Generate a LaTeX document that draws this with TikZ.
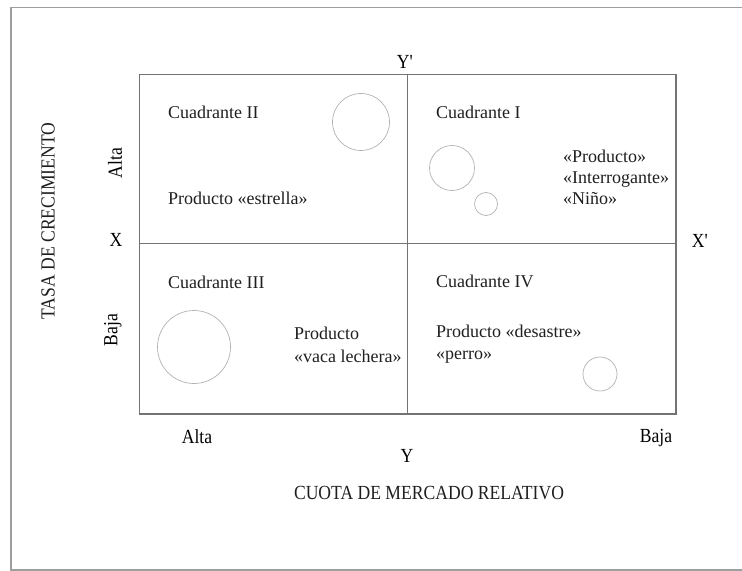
\documentclass[tikz,border=0pt]{standalone}
\usepackage{fontspec}
\setmainfont{Liberation Serif}
\newfontfamily\condfont[FakeStretch=0.88]{Liberation Serif}
\definecolor{framec}{gray}{0.62}
\definecolor{boxc}{gray}{0.45}
\definecolor{circc}{gray}{0.70}
\definecolor{txtc}{gray}{0.12}
\tikzset{
  frameline/.style={draw=framec, line width=1.4bp},
  boxline/.style={draw=boxc, line width=1.1bp},
  bubble/.style={draw=circc, line width=0.7bp},
  qtext/.style={inner sep=0pt, anchor=west, text=txtc, align=left,
    font=\fontsize{18bp}{21bp}\selectfont},
  axislbl/.style={inner sep=0pt, text=black, font=\condfont\fontsize{20bp}{22bp}\selectfont},
  titlelbl/.style={inner sep=0pt, text=txtc, font=\condfont\fontsize{20bp}{22bp}\selectfont},
}
\begin{document}
\begin{tikzpicture}[x=1bp,y=-1bp]
\useasboundingbox (0,0) rectangle (742,571);
% outer frame (open on the right)
\coordinate (fTR) at (742,7.5);
\coordinate (fTL) at (11,7.5);
\coordinate (fBL) at (11,570);
\coordinate (fBR) at (742,570);
\draw[frameline] (fTR) -- (fTL) -- (fBL) -- (fBR);
% matrix box
\coordinate (bTL) at (139.5,74.5);
\coordinate (bBR) at (676,414);
\coordinate (vTop) at (407.3,74.5);
\coordinate (vBot) at (407.3,414);
\coordinate (hL) at (139.5,243.3);
\coordinate (hR) at (676,243.3);
\draw[boxline] (bTL) rectangle (bBR);
\draw[boxline] (vTop) -- (vBot);
\draw[boxline] (hL) -- (hR);
% bubbles
\node[bubble, circle, minimum size=57bp, inner sep=0pt] (c2) at (361,122) {};
\node[bubble, circle, minimum size=45bp, inner sep=0pt] (c1a) at (452,168) {};
\node[bubble, circle, minimum size=23bp, inner sep=0pt] (c1b) at (486,204) {};
\node[bubble, circle, minimum size=73bp, inner sep=0pt] (c3) at (194,347) {};
\node[bubble, circle, minimum size=34bp, inner sep=0pt] (c4) at (600,374) {};
% quadrant texts
\node[qtext] (q2) at (168,112) {Cuadrante II};
\node[qtext] (p2) at (168,198) {Producto «estrella»};
\node[qtext] (q1) at (436,112) {Cuadrante I};
\node[qtext] (p1) at (563,177) {«Producto»\\«Interrogante»\\«Niño»};
\node[qtext, font=\fontsize{18bp}{23bp}\selectfont] (p3) at (294,344.5) {Producto\\«vaca lechera»};
\node[qtext] (q3) at (168,282) {Cuadrante III};
\node[qtext] (q4) at (436,281) {Cuadrante IV};
\node[qtext, font=\fontsize{18bp}{22bp}\selectfont] (p4) at (436,344) {Producto «desastre»\\«perro»};
% axis labels
\node[axislbl] (yp) at (405,62) {Y\textquotesingle};
\node[axislbl] (xl) at (116,240) {X};
\node[axislbl] (xp) at (700,241) {X\textquotesingle};
\node[axislbl, rotate=90] (alta1) at (115,163) {Alta};
\node[axislbl, rotate=90] (baja1) at (113,330) {Baja};
\node[axislbl] (alta2) at (197,437) {Alta};
\node[axislbl] (yl) at (407,456) {Y};
\node[axislbl] (baja2) at (656,438) {Baja};
\node[titlelbl, rotate=90] (tasa) at (48,221) {TASA DE CRECIMIENTO};
\node[titlelbl] (cuota) at (429,493) {CUOTA DE MERCADO RELATIVO};
\end{tikzpicture}
\end{document}
